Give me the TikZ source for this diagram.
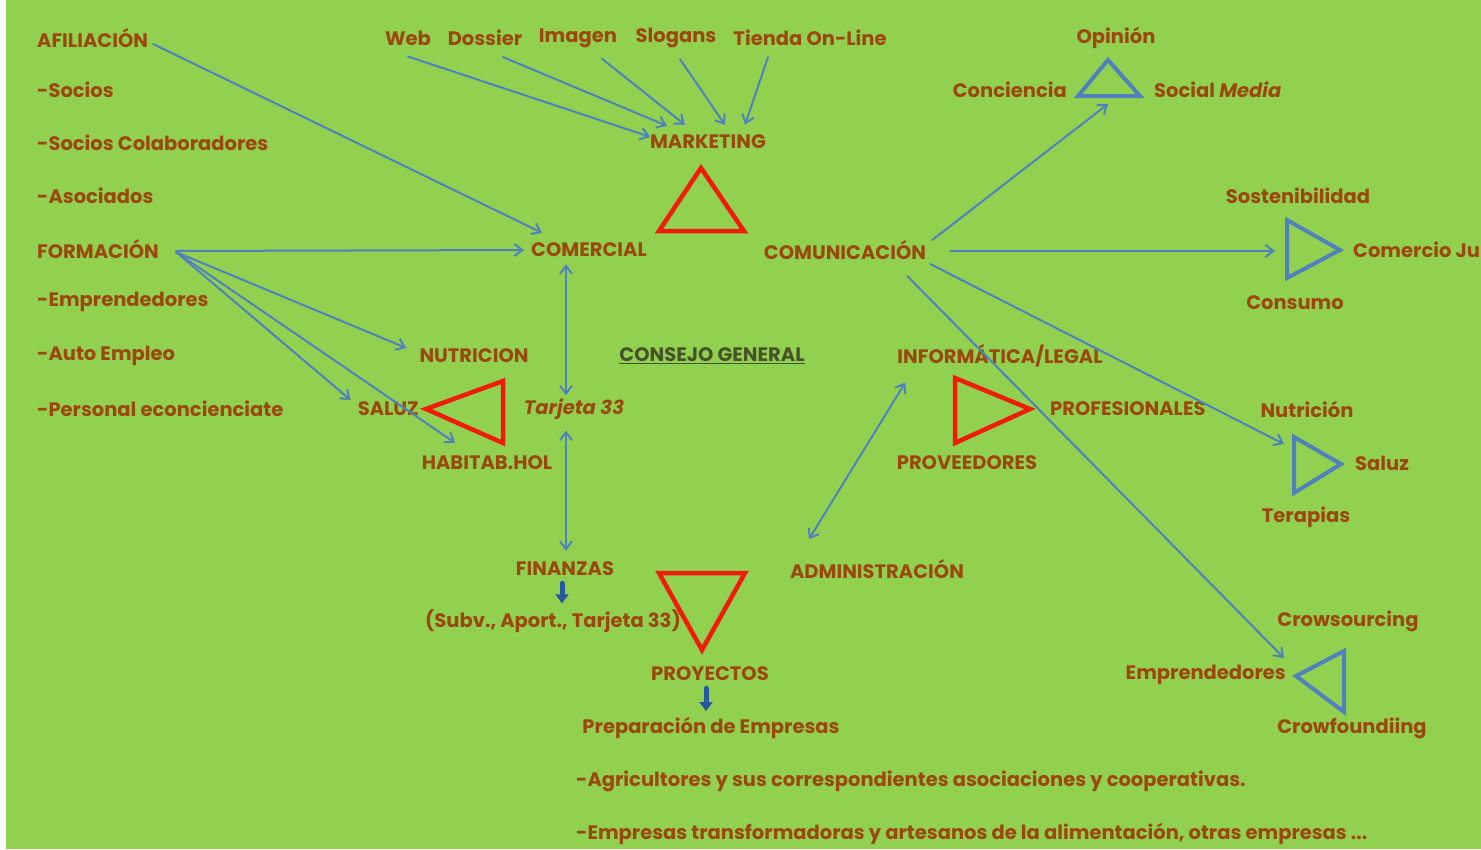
\documentclass[tikz,border=0pt]{standalone}
\usepackage{fontspec}
\setmainfont{Poppins}
\usetikzlibrary{arrows.meta}

\definecolor{fondo}{RGB}{146,208,80}
\definecolor{texto}{RGB}{155,72,14}
\definecolor{azul}{RGB}{79,129,189}
\definecolor{azuloscuro}{RGB}{38,88,160}
\definecolor{rojo}{RGB}{240,28,10}
\definecolor{consejo}{RGB}{70,82,40}

\tikzset{
  lbl/.style={font=\bfseries\fontsize{19.5}{22}\selectfont,text=texto,inner sep=1pt},
  flecha/.style={draw=azul,line width=2pt,-{Straight Barb[length=8pt,width=12pt,line width=2pt]}},
  doble/.style={draw=azul,line width=2pt,{Straight Barb[length=8pt,width=12pt,line width=2pt]}-{Straight Barb[length=8pt,width=12pt,line width=2pt]}},
  gorda/.style={draw=azuloscuro,line width=5pt,-{Triangle[length=9pt,width=13pt]}},
  trirojo/.style={draw=rojo,line width=4.5pt,line join=miter},
  triazul/.style={draw=azul,line width=4pt,line join=miter}
}

\begin{document}
\begin{tikzpicture}[x=1pt,y=-1pt,line cap=round]
\clip (0,0) rectangle (1481,849);
\useasboundingbox (0,0) rectangle (1481,849);
\fill[white] (0,0) rectangle (1481,849);
\fill[fondo] (6,0) rectangle (1481,849);

% columna izquierda
\node[lbl,anchor=west] (afil) at (36,38) {AFILIACIÓN};
\node[lbl,anchor=west] (socios) at (36,90) {-Socios};
\node[lbl,anchor=west] (socol) at (36,143) {-Socios Colaboradores};
\node[lbl,anchor=west] (asoc) at (36,196) {-Asociados};
\node[lbl,anchor=west] (form) at (36,249) {FORMACIÓN};
\node[lbl,anchor=west] (empr) at (36,302) {-Emprendedores};
\node[lbl,anchor=west] (auto) at (36,356) {-Auto Empleo};
\node[lbl,anchor=west] (pers) at (36,409) {-Personal econcienciate};

% marketing
\node[lbl] (web) at (408,38) {Web};
\node[lbl] (doss) at (485,38) {Dossier};
\node[lbl] (imag) at (578,38) {Imagen};
\node[lbl] (slog) at (676,38) {Slogans};
\node[lbl] (tienda) at (810,38) {Tienda On-Line};
\node[lbl] (mkt) at (708,142) {MARKETING};
\draw[trirojo] (659,231) -- (701,168) -- (744,231) -- cycle;
\node[lbl] (comercial) at (589,250) {COMERCIAL};
\node[lbl] (comunic) at (845,250) {COMUNICACIÓN};

% comunicacion
\node[lbl] (opin) at (1116,38) {Opinión};
\node[lbl,anchor=east] (conc) at (1068,90) {Conciencia};
\node[lbl,anchor=west] (social) at (1153,90) {Social \textit{Media}};
\draw[triazul] (1078,96) -- (1108,60) -- (1140,96) -- cycle;
\coordinate (opi) at (1108,104);
\node[lbl] (sost) at (1298,196) {Sostenibilidad};
\draw[triazul] (1287,220) -- (1340,250) -- (1287,278) -- cycle;
\node[lbl,anchor=west] (justo) at (1352,250) {Comercio Ju};
\node[lbl] (consumo) at (1295,303) {Consumo};
\coordinate (sos) at (1275,251);
\node[lbl] (nutr) at (1307,409) {Nutrición};
\draw[triazul] (1294,437) -- (1341,464) -- (1294,493) -- cycle;
\node[lbl,anchor=west] (saluz2) at (1354,463) {Saluz};
\node[lbl] (terap) at (1306,517) {Terapias};
\coordinate (nut) at (1284,444);
\node[lbl] (crows) at (1348,621) {Crowsourcing};
\draw[triazul] (1344,651) -- (1296,676) -- (1344,712) -- cycle;
\node[lbl,anchor=east] (empr2) at (1287,675) {Emprendedores};
\node[lbl] (crowf) at (1352,728) {Crowfoundiing};
\coordinate (cro) at (1284,658);

% centro
\node[lbl] (nutri) at (474,356) {NUTRICION};
\node[lbl,anchor=east] (saluz) at (420,409) {SALUZ};
\draw[trirojo] (426,409) -- (503,381) -- (503,443) -- cycle;
\node[lbl] (tarj) at (574,409) {\itshape Tarjeta 33};
\node[lbl] (habit) at (487,463) {HABITAB.HOL};
\node[lbl,text=consejo] (cons) at (712,356) {\underline{CONSEJO GENERAL}};
\node[lbl] (info) at (1000,356) {INFORMÁTICA/LEGAL};
\draw[trirojo] (955,378) -- (1030,409) -- (955,443) -- cycle;
\node[lbl,anchor=west] (prof) at (1049,409) {PROFESIONALES};
\node[lbl] (prov) at (967,463) {PROVEEDORES};
\node[lbl] (fin) at (565,569) {FINANZAS};
\node[lbl] (subv) at (553,621) {(Subv., Aport., Tarjeta 33)};
\draw[trirojo] (659,573) -- (745,573) -- (702,650) -- cycle;
\node[lbl] (admin) at (877,569) {ADMINISTRACIÓN};
\node[lbl] (proy) at (710,674) {PROYECTOS};
\node[lbl] (prep) at (711,728) {Preparación de Empresas};
\node[lbl,anchor=west] (agri) at (575,781) {-Agricultores y sus correspondientes asociaciones y cooperativas.};
\node[lbl,anchor=west] (empre) at (575,834) {-Empresas transformadoras y artesanos de la alimentación, otras empresas ...};

% flechas
\draw[flecha] ([shift={(4,6)}]afil.east) -- ([shift={(12,-9)}]comercial.north west);
\draw[flecha] ([shift={(16,2)}]form.east) -- ([shift={(-6,0)}]comercial.west);
\draw[flecha] ([shift={(16,3)}]form.east) -- ([shift={(-12,-8)}]nutri.west);
\draw[flecha] ([shift={(16,3)}]form.east) -- ([shift={(-6,-9)}]saluz.west);
\draw[flecha] ([shift={(16,3)}]form.east) -- ([shift={(-32,-12)}]habit.north);
\draw[flecha] ([shift={(0,10)}]web.south) -- ([shift={(-58,3)}]mkt.north);
\draw[flecha] ([shift={(18,10)}]doss.south) -- ([shift={(-41,-8)}]mkt.north);
\draw[flecha] ([shift={(24,10)}]imag.south) -- ([shift={(-23,-9)}]mkt.north);
\draw[flecha] ([shift={(4,10)}]slog.south) -- ([shift={(17,-9)}]mkt.north);
\draw[flecha] ([shift={(-42,10)}]tienda.south) -- ([shift={(37,-9)}]mkt.north);
\draw[doble] ([shift={(1,6)}]fin.north |- comercial.south) -- ([shift={(1,-2)}]fin.north |- tarj.north);
\draw[doble] ([shift={(1,10)}]fin.north |- tarj.south) -- ([shift={(1,-10)}]fin.north);
\draw[doble] ([shift={(9,14)}]info.south west) -- ([shift={(20,-19)}]admin.north west);
\draw[flecha] ([shift={(5,-10)}]comunic.east) -- (opi);
\draw[flecha] ([shift={(23,1)}]comunic.east) -- (sos);
\draw[flecha] ([shift={(3,14)}]comunic.east) -- (nut);
\draw[flecha] ([shift={(-20,26)}]comunic.east) -- (cro);
\draw[gorda] ([shift={(-3,6)}]fin.south) -- ([shift={(9,-5)}]subv.north);
\draw[gorda] ([shift={(-4,6)}]proy.south) -- ([shift={(-5,-5)}]prep.north);
\end{tikzpicture}
\end{document}
